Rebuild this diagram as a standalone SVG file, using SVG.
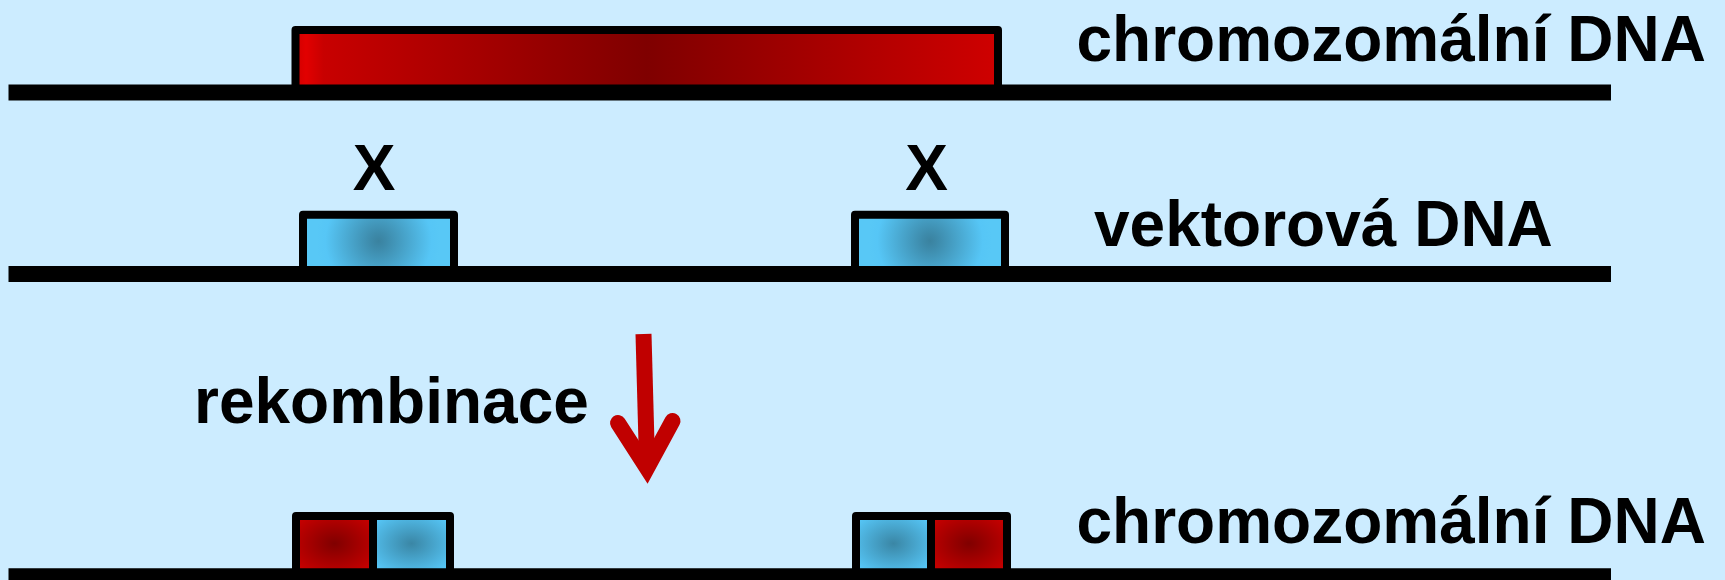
<svg xmlns="http://www.w3.org/2000/svg" width="1725" height="580" viewBox="0 0 1725 580">
  <defs>
    <linearGradient id="redLong" x1="0" y1="0" x2="1" y2="0">
      <stop offset="0" stop-color="#d00000"/>
      <stop offset="0.015" stop-color="#e20000"/>
      <stop offset="0.04" stop-color="#c80000"/>
      <stop offset="0.5" stop-color="#7f0000"/>
      <stop offset="1" stop-color="#cf0000"/>
    </linearGradient>
    <radialGradient id="blueWide" cx="0.5" cy="0.5" r="1.2" gradientTransform="translate(0.5,0.5) scale(0.344,1) translate(-0.5,-0.5)">
      <stop offset="0" stop-color="#3a829f"/>
      <stop offset="0.12" stop-color="#3d8aaa"/>
      <stop offset="0.85" stop-color="#56c6f6"/>
      <stop offset="1" stop-color="#58c8f6"/>
    </radialGradient>
    <radialGradient id="blueGrad" cx="0.5" cy="0.5" r="0.6">
      <stop offset="0" stop-color="#3a86a5"/>
      <stop offset="1" stop-color="#55c4f4"/>
    </radialGradient>
    <radialGradient id="redGrad" cx="0.5" cy="0.5" r="0.6">
      <stop offset="0" stop-color="#800000"/>
      <stop offset="1" stop-color="#c40000"/>
    </radialGradient>
  </defs>
  <style>
    .dna { stroke: #000; stroke-width: 16; fill: none; }
    .box { stroke: #000; stroke-width: 8; stroke-linejoin: round; }
    .div { stroke: #000; stroke-width: 8; }
    .lbl { font-family: "Liberation Sans", Arial, sans-serif; font-weight: bold; font-size: 64px; fill: #000; }
    .arrow { stroke: #c00000; fill: none; stroke-width: 16; }
  </style>
  <rect x="0" y="0" width="1725" height="580" fill="#ccecff"/>

  <g id="chromosome-dna">
    <path class="box" d="M295.5,85 V30 H998 V85" fill="url(#redLong)"/>
    <line class="dna" x1="8.5" y1="92.5" x2="1611" y2="92.5"/>
    <text class="lbl" x="1076.5" y="61">chromozomální DNA</text>
  </g>

  <g id="vector-dna">
    <path class="box" d="M303,267 V214.7 H454 V267" fill="url(#blueWide)"/>
    <path class="box" d="M855,267 V214.7 H1005 V267" fill="url(#blueWide)"/>
    <text class="lbl" x="374" y="189.5" text-anchor="middle">X</text>
    <text class="lbl" x="926.5" y="189.5" text-anchor="middle">X</text>
    <line class="dna" x1="8.5" y1="274" x2="1611" y2="274"/>
    <text class="lbl" x="1094" y="245.7">vektorová DNA</text>
  </g>

  <g id="connectors">
    <line class="arrow" x1="643.5" y1="334" x2="647" y2="462"/>
    <polyline class="arrow" points="618,423 647,468 672.5,421" stroke-linecap="round" stroke-linejoin="miter"/>
  </g>
  <text id="recombination-label" class="lbl" x="194" y="422.7">rekombinace</text>

  <g id="recombined-dna">
    <rect x="296" y="516" width="77" height="55" fill="url(#redGrad)"/>
    <rect x="373" y="516" width="77" height="55" fill="url(#blueGrad)"/>
    <path class="box" d="M296,570 V516 H450 V570" fill="none"/>
    <line class="div" x1="373" y1="516" x2="373" y2="570"/>
    <rect x="856" y="516" width="75" height="55" fill="url(#blueGrad)"/>
    <rect x="931" y="516" width="76" height="55" fill="url(#redGrad)"/>
    <path class="box" d="M856,570 V516 H1007 V570" fill="none"/>
    <line class="div" x1="931" y1="516" x2="931" y2="570"/>
    <line class="dna" x1="8.5" y1="576.3" x2="1611" y2="576.3"/>
    <text class="lbl" x="1076.5" y="543.3">chromozomální DNA</text>
  </g>
</svg>
